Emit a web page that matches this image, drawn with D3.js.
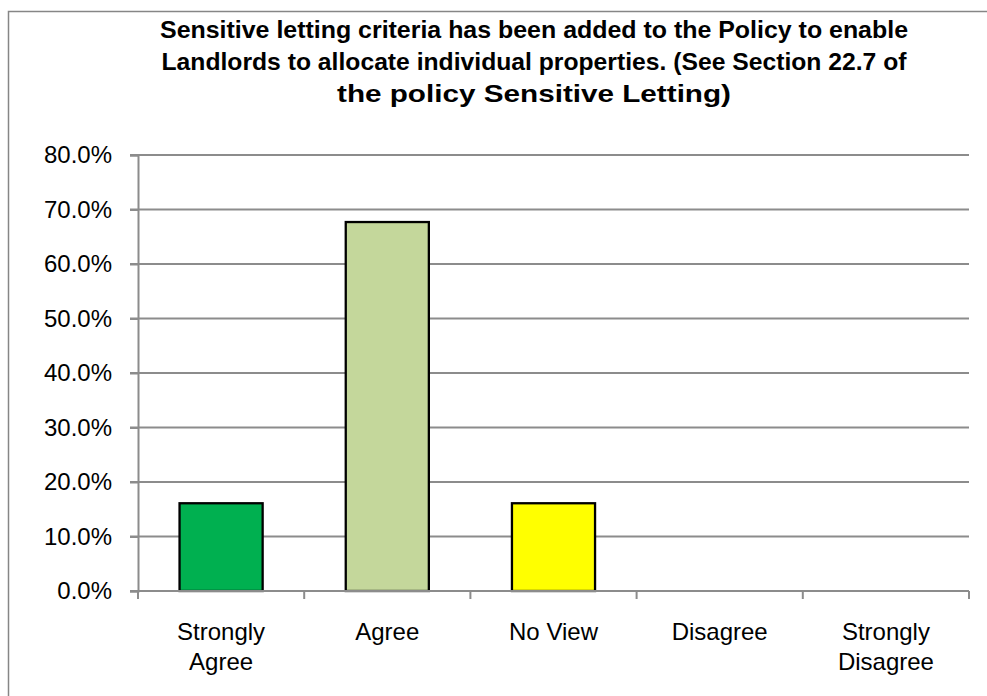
<!DOCTYPE html>
<html><head><meta charset="utf-8">
<script src="https://cdn.jsdelivr.net/npm/d3@7"></script>
<style>body{margin:0;background:#fff;} svg{display:block;}</style>
</head><body>
<script>
const categories = ["Strongly Agree","Agree","No View","Disagree","Strongly Disagree"];
const categoryLines = [["Strongly","Agree"],["Agree"],["No View"],["Disagree"],["Strongly","Disagree"]];
const values = [0.161, 0.677, 0.161, 0, 0];
const colors = ["#00B050","#C4D79B","#FFFF00","#4F81BD","#C0504D"];
const yTicks = [0,0.1,0.2,0.3,0.4,0.5,0.6,0.7,0.8];
const titleLines = ["Sensitive letting criteria has been added to the Policy to enable",
  "Landlords to allocate individual properties. (See Section 22.7 of",
  "the policy Sensitive Letting)"];

const W=987,H=696;
const svg=d3.select("body").append("svg").attr("width",W).attr("height",H);
svg.append("rect").attr("x",8.5).attr("y",11.5).attr("width",W).attr("height",H)
  .attr("fill","#fff").attr("stroke","#868686").attr("stroke-width",1.5);

const font="'Liberation Sans', Arial, sans-serif";
const x=d3.scaleBand().domain(categories).range([138,969]).paddingInner(0.5).paddingOuter(0.25);
const y=d3.scaleLinear().domain([0,0.8]).range([591,155]);

// gridlines
svg.append("g").selectAll("line").data(yTicks).join("line")
  .attr("x1",130).attr("x2",969).attr("y1",d=>y(d)).attr("y2",d=>y(d))
  .attr("stroke","#8c8c8c").attr("stroke-width",2);

// y axis
const yAxis=svg.append("g").attr("transform","translate(138,0)")
  .call(d3.axisLeft(y).tickValues(yTicks).tickFormat(d3.format(".1%")).tickSize(8).tickPadding(18));
yAxis.select(".domain").attr("stroke","#8c8c8c").attr("stroke-width",2);
yAxis.selectAll(".tick line").attr("stroke","#8c8c8c").attr("stroke-width",2);
yAxis.selectAll("text").attr("font-family",font).attr("font-size",24).attr("fill","#000");

// bars
svg.append("g").selectAll("rect").data(values).join("rect")
  .attr("x",(d,i)=>x(categories[i])).attr("width",x.bandwidth())
  .attr("y",d=>y(d)).attr("height",d=>y(0)-y(d))
  .attr("fill",(d,i)=>colors[i]).attr("stroke",d=>d>0?"#000":"none").attr("stroke-width",2.3);

// x axis
const step=x.step();
const xAxisG=svg.append("g");
xAxisG.append("line").attr("x1",138).attr("x2",969).attr("y1",y(0)).attr("y2",y(0))
  .attr("stroke","#8c8c8c").attr("stroke-width",2);
const bounds=[138].concat(categories.map(c=>x(c)-x.step()*x.paddingInner()/2+step));
xAxisG.selectAll("line.t").data(bounds).join("line").attr("class","t")
  .attr("x1",d=>d).attr("x2",d=>d).attr("y1",y(0)).attr("y2",y(0)+8)
  .attr("stroke","#8c8c8c").attr("stroke-width",2);
categoryLines.forEach((lines,i)=>{
  const cx=x(categories[i])+x.bandwidth()/2;
  const t=svg.append("text").attr("text-anchor","middle").attr("font-family",font)
    .attr("font-size",24).attr("fill","#000");
  lines.forEach((l,j)=>t.append("tspan").attr("x",cx).attr("y",640+j*30).text(l));
});

// title
const titleWidths=[748,745,394];
titleLines.forEach((l,i)=>{
  svg.append("text").attr("x",534).attr("y",38+i*32).attr("text-anchor","middle")
    .attr("font-family",font).attr("font-weight","bold").attr("font-size",24)
    .attr("textLength",titleWidths[i]).attr("lengthAdjust","spacingAndGlyphs")
    .attr("fill","#000").text(l);
});
</script>
</body></html>
